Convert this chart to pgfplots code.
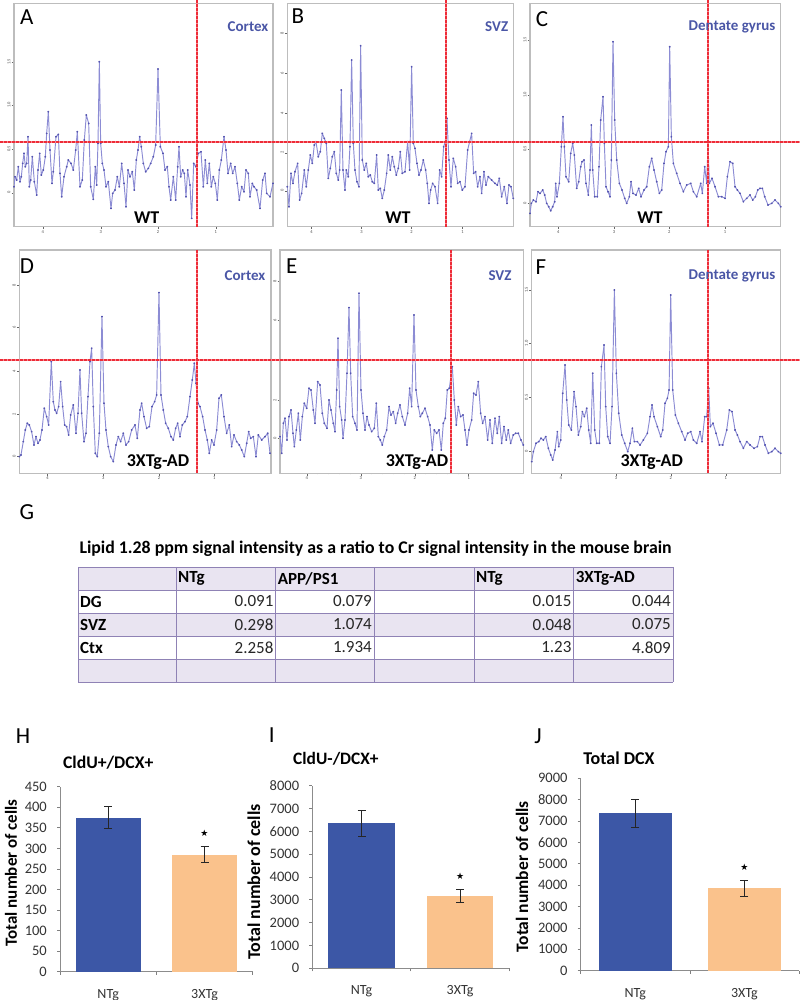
\documentclass[border=0pt]{standalone}
\usepackage{pgfplots}
\pgfplotsset{compat=1.18}
\usepackage{fontspec}
\setmainfont{Carlito}
\definecolor{specc}{HTML}{8C8CD4}
\definecolor{specd}{HTML}{5555B0}
\definecolor{framec}{HTML}{BDBDBD}
\definecolor{redl}{HTML}{EE2C38}
\definecolor{tagblue}{HTML}{4A56A6}
\definecolor{barblue}{HTML}{3C57A6}
\definecolor{barorange}{HTML}{FAC28C}
\definecolor{lav}{HTML}{E9E4F1}
\definecolor{gridl}{HTML}{8F82B5}
\newcommand{\fs}[1]{\fontsize{#1}{#1}\selectfont}
\newcommand{\redguides}{
  \draw (0,858) -- (800,858);
  \draw (197,1000) -- (197,773);
  \draw (446,1000) -- (446,773);
  \draw (708,1000) -- (708,773);
  \draw (0,640) -- (800,640);
  \draw (197,750) -- (197,526.7);
  \draw (451,750) -- (451,526.7);
  \draw (708,750) -- (708,526.7);
}
\pgfplotsset{
  spectrum/.style={
    scale only axis, height=223.3pt, ymin=0, ymax=670,
    axis line style={framec, line width=1.3pt},
    tick style={black!60, line width=0.3pt},
    major tick length=2.5pt, minor tick length=1.2pt,
    minor x tick num=4, minor y tick num=4,
    tick align=outside, xtick pos=bottom, ytick pos=left,
    tick label style={font=\fs{4.5}, text=black!70, inner sep=1pt},
    yticklabel style={rotate=90, anchor=south},
    /pgf/number format/assume math mode=true,
  },
  specline/.style={specc, line width=0.95pt, line join=round, mark=*, mark size=0.5pt, mark options={specd, draw=specd, fill=specd}},
  cellbars/.style={
    scale only axis, xmin=-0.5, xmax=1.5, ymin=0,
    axis x line*=bottom, axis y line*=left,
    axis line style={black!45, line width=0.7pt},
    tick style={black!50, line width=0.7pt},
    major tick length=3pt, tick align=outside,
    xtick={-0.5,0.5,1.5}, xticklabels={},
    extra x ticks={0,1}, extra x tick labels={NTg,3XTg},
    extra x tick style={major tick length=0pt, tick label style={font=\fs{14}, text=black!80, yshift=-14pt}},
    ylabel={Total number of cells},
    y tick label style={font=\fs{14.5}, text=black!80, inner sep=1pt, xshift=-9pt},
    /pgf/number format/assume math mode=true,
    /pgf/number format/1000 sep={},
    scaled y ticks=false,
    ybar, bar shift=0pt,
    error bars/y dir=both, error bars/y explicit,
    error bars/error mark options={rotate=90, mark size=4pt, line width=0.8pt, black!85},
    error bars/error bar style={line width=0.8pt, black!85},
  },
}
\begin{document}
\begin{tikzpicture}[x=1pt,y=1pt]
\path[use as bounding box] (0,0) rectangle (800,1000);

% --- WT row ---
\begin{axis}[spectrum, at={(14pt,773.3pt)}, anchor=south west, width=259pt, xmin=42, xmax=819,
  xtick={128,302,474,647}, xticklabels={4,3,2,1},
  ytick={102,233,365,495}, yticklabels={0,0.5,1.0,1.5}]
\addplot[specline] coordinates {(42,120)(45,150)(50,140)(55,180)(60,135)(64,150)(68,190)(72,220)(76,180)(80,190)(84,270)(88,120)(92,140)(97,210)(103,135)(110,95)(114,170)(119,220)(124,155)(130,170)(136,210)(140,280)(145,345)(150,230)(156,130)(160,165)(168,270)(175,277)(180,160)(185,90)(192,150)(200,180)(205,200)(213,190)(220,170)(227,230)(232,285)(240,120)(247,140)(253,260)(259,335)(266,310)(272,120)(280,82)(286,180)(290,125)(294,250)(298,495)(302,250)(307,190)(312,170)(318,120)(325,135)(333,55)(338,100)(345,110)(352,150)(358,120)(365,190)(372,130)(378,60)(384,170)(390,150)(397,165)(403,110)(409,200)(414,230)(419,270)(424,240)(430,190)(437,165)(445,175)(452,190)(460,210)(467,245)(474,473)(481,240)(489,220)(495,170)(502,180)(507,120)(512,80)(520,150)(527,80)(533,180)(537,240)(542,150)(548,170)(553,160)(558,90)(563,170)(570,125)(575,25)(581,190)(588,180)(595,220)(603,225)(610,120)(616,200)(622,130)(628,190)(634,120)(640,150)(646,130)(652,80)(658,170)(664,200)(672,270)(678,230)(684,160)(692,190)(698,160)(705,180)(712,130)(718,80)(725,120)(732,105)(738,170)(745,160)(750,90)(757,130)(762,120)(770,110)(780,55)(788,140)(795,160)(800,100)(810,90)(819,130)};
\node[font=\fs{4}, anchor=north east, inner sep=0pt, text=black!70] at (rel axis cs:1,-0.012) {[ppm]};
\node[font=\fs{4}, rotate=90, anchor=east, inner sep=0pt, text=black!70] at (rel axis cs:-0.02,1) {[e+03]};
\end{axis}

\begin{axis}[spectrum, at={(287.3pt,773.3pt)}, anchor=south west, width=226pt, xmin=67, xmax=745,
  xtick={140,290,440,593}, xticklabels={4,3,2,1},
  ytick={108,222,340,460,580}, yticklabels={0,2,4,6,8}]
\addplot[specline] coordinates {(67,120)(72,60)(78,160)(84,130)(90,165)(98,190)(104,80)(110,100)(118,170)(124,120)(130,170)(136,215)(142,190)(148,245)(153,255)(160,210)(166,225)(172,280)(178,265)(184,250)(190,145)(196,175)(202,210)(208,225)(214,160)(220,140)(224,170)(229,410)(234,170)(240,110)(244,170)(250,150)(255,240)(260,500)(265,250)(270,170)(276,135)(282,120)(287,543)(292,200)(298,170)(304,190)(310,150)(316,155)(322,135)(328,130)(335,215)(340,110)(346,115)(352,85)(358,110)(365,160)(370,215)(376,170)(382,210)(388,180)(394,155)(400,175)(406,225)(412,160)(420,165)(428,255)(434,170)(440,480)(445,250)(450,235)(456,190)(462,155)(468,170)(475,200)(482,170)(487,130)(492,70)(497,110)(503,130)(510,120)(518,70)(524,170)(530,150)(536,240)(541,255)(546,325)(552,200)(558,120)(565,205)(572,180)(578,130)(585,135)(592,110)(600,120)(608,230)(614,255)(620,280)(626,160)(632,165)(638,120)(645,150)(650,100)(657,165)(663,125)(670,150)(680,140)(690,130)(697,125)(703,145)(710,90)(718,120)(726,70)(732,125)(738,120)(745,85)};
\node[font=\fs{4}, anchor=north east, inner sep=0pt, text=black!70] at (rel axis cs:1,-0.012) {[ppm]};
\node[font=\fs{4}, rotate=90, anchor=east, inner sep=0pt, text=black!70] at (rel axis cs:-0.02,1) {[e+03]};
\end{axis}

\begin{axis}[spectrum, at={(530pt,773.3pt)}, anchor=south west, width=250.7pt, xmin=0, xmax=752,
  xtick={85,252,418,585}, xticklabels={4,3,2,1},
  ytick={70,233,395,560}, yticklabels={0,0.5,1.0,1.5}]
\addplot[specline] coordinates {(0,40)(4,70)(10,80)(18,75)(24,105)(30,100)(38,110)(44,95)(50,70)(56,60)(62,48)(68,60)(74,75)(77,130)(81,90)(88,130)(94,240)(99,330)(103,240)(108,150)(116,135)(122,220)(128,250)(133,215)(140,115)(146,135)(152,180)(156,195)(162,200)(168,130)(175,95)(180,170)(184,305)(188,170)(194,90)(202,90)(207,180)(212,320)(219,390)(223,250)(228,120)(234,105)(240,90)(244,200)(249,555)(254,320)(260,200)(268,130)(276,110)(284,85)(290,70)(298,90)(303,135)(309,100)(318,95)(326,115)(333,90)(342,110)(350,120)(358,180)(365,205)(372,170)(380,135)(388,100)(395,110)(402,190)(408,225)(415,240)(419,540)(424,270)(430,190)(440,160)(450,130)(460,105)(470,125)(482,130)(490,105)(500,90)(512,130)(517,100)(524,180)(530,130)(534,250)(538,130)(546,145)(555,120)(565,90)(575,90)(585,85)(592,150)(600,195)(608,190)(615,120)(622,110)(630,100)(640,75)(650,85)(660,95)(668,80)(676,90)(683,110)(690,115)(697,115)(704,90)(714,65)(725,70)(735,80)(745,70)(752,60)};
\node[font=\fs{4}, anchor=north east, inner sep=0pt, text=black!70] at (rel axis cs:1,-0.012) {[ppm]};
\node[font=\fs{4}, rotate=90, anchor=east, inner sep=0pt, text=black!70] at (rel axis cs:-0.02,1) {[e+03]};
\end{axis}

% --- 3XTg-AD row ---
\begin{axis}[spectrum, at={(19.3pt,526.7pt)}, anchor=south west, width=251.7pt, xmin=58, xmax=813,
  xtick={143,310,477,643}, xticklabels={4,3,2,1},
  ytick={50,178,307,437,565}, yticklabels={0,2,4,6,8}]
\addplot[specline] coordinates {(58,50)(63,55)(70,95)(76,130)(82,150)(88,145)(95,125)(102,85)(108,110)(114,90)(120,100)(126,130)(133,195)(140,170)(146,145)(154,335)(160,215)(165,190)(170,180)(176,200)(182,275)(188,200)(194,145)(200,140)(206,115)(212,175)(220,205)(228,120)(234,180)(240,310)(245,180)(252,95)(258,120)(264,230)(270,335)(275,375)(280,200)(286,60)(292,50)(298,120)(306,470)(312,210)(318,130)(325,80)(332,50)(340,35)(348,85)(355,110)(362,95)(370,120)(378,85)(386,95)(395,130)(405,145)(412,105)(420,190)(425,210)(432,170)(440,135)(448,140)(456,200)(464,215)(470,235)(477,542)(483,235)(490,190)(497,150)(505,135)(513,110)(520,100)(527,135)(533,150)(540,110)(547,145)(555,155)(562,170)(570,230)(577,280)(583,330)(588,270)(594,210)(600,200)(608,170)(615,130)(622,100)(628,60)(635,100)(642,85)(650,130)(657,225)(664,235)(672,170)(680,120)(688,145)(695,80)(702,115)(710,95)(718,85)(725,70)(733,50)(740,90)(746,125)(752,105)(760,110)(768,50)(775,115)(785,100)(795,110)(803,120)(810,60)};
\node[font=\fs{4}, anchor=north east, inner sep=0pt, text=black!70] at (rel axis cs:1,-0.012) {[ppm]};
\node[font=\fs{4}, rotate=90, anchor=east, inner sep=0pt, text=black!70] at (rel axis cs:-0.02,1) {[e+03]};
\end{axis}

\begin{axis}[spectrum, at={(280pt,526.7pt)}, anchor=south west, width=243.3pt, xmin=45, xmax=775,
  xtick={125,287,449,611}, xticklabels={4,3,2,1},
  ytick={105,220,338,458,577}, yticklabels={0,2,4,6,8}]
\addplot[specline] coordinates {(45,110)(50,60)(55,150)(60,165)(66,100)(72,170)(78,190)(84,120)(88,80)(94,130)(100,180)(106,100)(112,170)(118,210)(125,195)(132,255)(138,250)(145,190)(150,150)(158,275)(165,265)(172,180)(178,150)(186,135)(192,220)(198,190)(205,150)(210,125)(215,250)(219,405)(224,200)(230,160)(234,105)(240,160)(246,300)(252,497)(257,300)(263,170)(270,150)(276,130)(282,540)(288,250)(294,180)(300,130)(306,170)(312,145)(320,125)(328,135)(334,210)(340,110)(346,100)(352,85)(358,110)(365,130)(372,200)(378,175)(385,185)(392,150)(398,180)(405,205)(412,170)(420,145)(428,180)(434,255)(440,200)(447,475)(453,250)(460,200)(466,170)(472,180)(480,195)(488,170)(495,145)(502,70)(508,130)(515,120)(522,130)(529,70)(535,150)(541,165)(547,250)(553,255)(562,320)(568,220)(574,145)(580,200)(587,170)(594,175)(600,130)(606,85)(612,130)(620,160)(626,240)(633,235)(640,275)(647,180)(653,150)(660,170)(668,100)(675,160)(682,90)(690,165)(697,120)(703,170)(710,90)(717,140)(724,100)(730,130)(737,90)(745,115)(752,120)(760,120)(768,100)(775,85)};
\node[font=\fs{4}, anchor=north east, inner sep=0pt, text=black!70] at (rel axis cs:1,-0.012) {[ppm]};
\node[font=\fs{4}, rotate=90, anchor=east, inner sep=0pt, text=black!70] at (rel axis cs:-0.02,1) {[e+03]};
\end{axis}

\begin{axis}[spectrum, at={(531.7pt,526.7pt)}, anchor=south west, width=249pt, xmin=5, xmax=752,
  xtick={92,258,422,587}, xticklabels={4,3,2,1},
  ytick={65,228,390,550}, yticklabels={0,0.5,1.0,1.5}]
\addplot[specline] coordinates {(5,35)(10,65)(18,90)(26,95)(33,105)(40,100)(47,110)(55,75)(62,55)(68,40)(75,70)(82,125)(86,80)(92,100)(98,240)(105,325)(110,220)(116,145)(124,130)(132,245)(138,200)(145,115)(152,140)(157,185)(163,170)(170,195)(176,130)(182,90)(188,300)(194,130)(200,90)(208,90)(214,320)(222,385)(227,200)(233,110)(240,90)(246,200)(253,550)(259,300)(266,180)(275,115)(284,90)(293,65)(300,90)(307,135)(313,95)(322,95)(330,85)(340,100)(352,120)(360,170)(366,205)(372,170)(382,140)(392,110)(398,130)(405,210)(412,225)(417,250)(422,535)(428,250)(436,175)(445,150)(455,125)(465,100)(473,120)(482,125)(490,100)(500,90)(510,125)(516,95)(524,170)(530,170)(536,255)(541,140)(549,150)(558,120)(568,85)(578,85)(590,130)(598,190)(606,185)(615,130)(622,115)(630,95)(640,75)(650,95)(660,85)(672,75)(682,80)(690,110)(697,110)(705,85)(715,60)(725,65)(735,75)(745,65)(752,60)};
\node[font=\fs{4}, anchor=north east, inner sep=0pt, text=black!70] at (rel axis cs:1,-0.012) {[ppm]};
\node[font=\fs{4}, rotate=90, anchor=east, inner sep=0pt, text=black!70] at (rel axis cs:-0.02,1) {[e+03]};
\end{axis}

% red guides: pale solid under red dashes
\begin{scope}[redl!55, line width=2pt]
\redguides
\end{scope}
\begin{scope}[redl, line width=2pt, dash pattern=on 3pt off 1pt]
\redguides
\end{scope}

% panel letters and tags
\begin{scope}[every node/.style={inner sep=0pt}]
\node[font=\fs{23}] at (26.7,983) {A};
\node[font=\fs{23}] at (298,984) {B};
\node[font=\fs{23}] at (542,981) {C};
\node[font=\fs{23}] at (27,734.3) {D};
\node[font=\fs{23}] at (291.7,734.3) {E};
\node[font=\fs{23}] at (541,733) {F};
\node[font=\fs{23}] at (27,488) {G};
\node[font=\fs{23}] at (23,264) {H};
\node[font=\fs{23}] at (271.7,265) {I};
\node[font=\fs{23}] at (538,264) {J};
\foreach \x/\y/\t in {248/973/Cortex, 496.7/973/SVZ, 732/973/Dentate gyrus, 245/724.3/Cortex, 500/724.3/SVZ, 732/724.3/Dentate gyrus}
  \node[font=\fs{15}\bfseries, text=tagblue] at (\x,\y) {\t};
\foreach \x in {146.7,398,650}
  \node[font=\fs{18}\bfseries] at (\x,782) {WT};
\foreach \x in {158,417,651.7}
  \node[font=\fs{18}\bfseries] at (\x,538) {3XTg-AD};
\end{scope}

% table G
\node[font=\fs{17.8}\bfseries, inner sep=0pt] at (375.5,451) {Lipid 1.28 ppm signal intensity as a ratio to Cr signal intensity in the mouse brain};
\fill[lav] (78,433) rectangle (673,410);
\fill[lav] (78,387) rectangle (673,364);
\fill[lav] (78,341) rectangle (673,318);
\begin{scope}[gridl, line width=0.7pt]
\foreach \y in {433,410,387,364,341,318} \draw (78,\y) -- (673,\y);
\foreach \x in {78,176,275.6,374,474,573.6,673} \draw (\x,433) -- (\x,318);
\end{scope}
\begin{scope}[every node/.style={inner sep=0pt, font=\fs{17}, text=black!85}]
\foreach \x/\t in {178/NTg, 277.6/APP\slash PS1, 476/NTg, 575.6/3XTg-AD}
  \node[anchor=west, font=\fs{17}\bfseries, text=black] at (\x,421.5) {\t};
\foreach \y/\t in {398.5/DG, 375.5/SVZ, 352.5/Ctx}
  \node[anchor=west, font=\fs{17}\bfseries, text=black] at (80,\y) {\t};
\foreach \y/\a/\b/\c/\d in {398.5/0.091/0.079/0.015/0.044, 375.5/0.298/1.074/0.048/0.075, 352.5/2.258/1.934/1.23/4.809}{
  \node[anchor=east] at (273.6,\y) {\a};
  \node[anchor=east] at (372,\y) {\b};
  \node[anchor=east] at (571.6,\y) {\c};
  \node[anchor=east] at (671,\y) {\d};
}
\end{scope}

% cell counts
\begin{axis}[cellbars, at={(60pt,28.3pt)}, anchor=south west, width=192.7pt, height=185pt,
  ymax=450, ytick={0,50,...,450}, bar width=64.7pt,
  title={CldU+/DCX+},
  every axis title/.style={at={(rel axis cs:0.25,1.128)},anchor=center,font=\fs{17.7}\bfseries},
  every axis y label/.style={at={(rel axis cs:-0.254,0.534)},rotate=90,anchor=center,font=\fs{17}\bfseries}]
\addplot[fill=barblue, draw=none] coordinates {(0,375) +- (0,26)};
\addplot[fill=barorange, draw=none] coordinates {(1,285) +- (0,20)};
\node[font=\fs{9}] at (axis cs:1,337) {\fontspec{DejaVu Sans}★};
\end{axis}

\begin{axis}[cellbars, at={(312.3pt,31.7pt)}, anchor=south west, width=197pt, height=182.6pt,
  ymax=8000, ytick={0,1000,...,8000}, bar width=66.5pt,
  title={CldU-/DCX+},
  every axis title/.style={at={(rel axis cs:0.12,1.146)},anchor=center,font=\fs{17.4}\bfseries},
  every axis y label/.style={at={(rel axis cs:-0.296,0.473)},rotate=90,anchor=center,font=\fs{18}\bfseries}]
\addplot[fill=barblue, draw=none] coordinates {(0,6350) +- (0,580)};
\addplot[fill=barorange, draw=none] coordinates {(1,3170) +- (0,280)};
\node[font=\fs{9}] at (axis cs:1,4043) {\fontspec{DejaVu Sans}★};
\end{axis}

\begin{axis}[cellbars, at={(580.7pt,29.3pt)}, anchor=south west, width=218.3pt, height=192.4pt,
  ymax=9000, ytick={0,1000,...,9000}, bar width=73pt,
  title={Total DCX},
  every axis title/.style={at={(rel axis cs:0.175,1.105)},anchor=center,font=\fs{18}\bfseries},
  every axis y label/.style={at={(rel axis cs:-0.269,0.488)},rotate=90,anchor=center,font=\fs{17.5}\bfseries}]
\addplot[fill=barblue, draw=none] coordinates {(0,7360) +- (0,660)};
\addplot[fill=barorange, draw=none] coordinates {(1,3850) +- (0,370)};
\node[font=\fs{9}] at (axis cs:1,4851) {\fontspec{DejaVu Sans}★};
\end{axis}
\end{tikzpicture}
\end{document}
